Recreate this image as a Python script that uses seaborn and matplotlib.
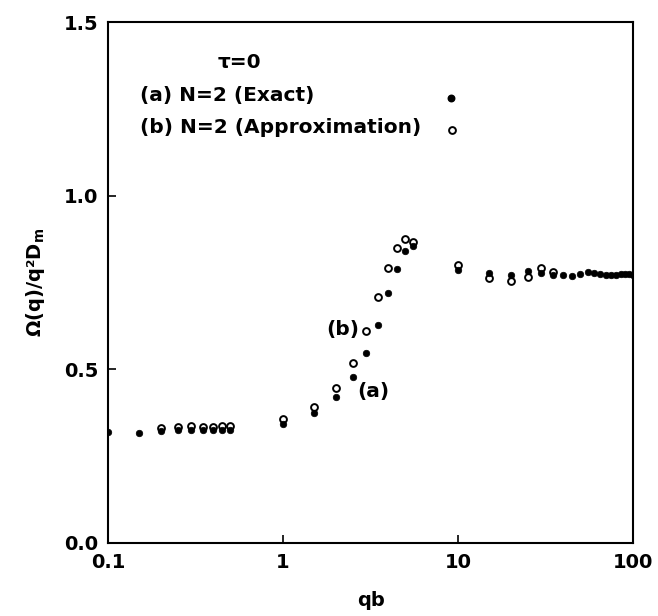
import numpy as np
import pandas as pd
import matplotlib
matplotlib.use("Agg")
import matplotlib.pyplot as plt
import seaborn as sns

# ---- data ----
x_exact = [0.1, 0.15, 0.2, 0.25, 0.3, 0.35, 0.4, 0.45, 0.5, 1.0, 1.5, 2.0, 2.5,
           3.0, 3.5, 4.0, 4.5, 5.0, 5.5, 10, 15, 20, 25, 30, 35, 40, 45, 50,
           55, 60, 65, 70, 75, 80, 85, 90, 95, 100]
y_exact = [0.320, 0.318, 0.322, 0.325, 0.325, 0.324, 0.324, 0.325, 0.326, 0.343,
           0.375, 0.420, 0.477, 0.548, 0.628, 0.720, 0.790, 0.840, 0.855, 0.786,
           0.776, 0.772, 0.783, 0.776, 0.772, 0.772, 0.770, 0.775, 0.779, 0.776,
           0.774, 0.773, 0.773, 0.773, 0.774, 0.774, 0.774, 0.773]

x_approx = [0.2, 0.25, 0.3, 0.35, 0.4, 0.45, 0.5, 1.0, 1.5, 2.0, 2.5, 3.0, 3.5,
            4.0, 4.5, 5.0, 5.5, 10, 15, 20, 25, 30, 35]
y_approx = [0.330, 0.333, 0.337, 0.335, 0.335, 0.337, 0.338, 0.357, 0.392, 0.447,
            0.519, 0.610, 0.707, 0.791, 0.850, 0.875, 0.868, 0.800, 0.762, 0.755,
            0.767, 0.791, 0.781]

x_ticks = [0.1, 1, 10, 100]
x_tick_labels = ["0.1", "1", "10", "100"]
y_ticks = [0.0, 0.5, 1.0, 1.5]
y_tick_labels = ["0.0", "0.5", "1.0", "1.5"]

df_exact = pd.DataFrame({"qb": x_exact, "omega": y_exact})
df_approx = pd.DataFrame({"qb": x_approx, "omega": y_approx})

sns.set_style("ticks")
plt.rcParams["font.family"] = ["DejaVu Sans"]
plt.rcParams["font.weight"] = "bold"
plt.rcParams["mathtext.fontset"] = "custom"
plt.rcParams["mathtext.rm"] = "DejaVu Sans:bold"
plt.rcParams["mathtext.it"] = "DejaVu Sans:bold"
plt.rcParams["mathtext.default"] = "rm"
for key in ["text.color", "axes.labelcolor", "xtick.color", "ytick.color",
            "axes.edgecolor"]:
    plt.rcParams[key] = "black"

fig = plt.figure(figsize=(6.58, 6.16), dpi=100)
ax = fig.add_axes([108 / 658, 1 - 543 / 616, 525 / 658, 521 / 616])

sns.scatterplot(data=df_approx, x="qb", y="omega", ax=ax, marker="o",
                facecolor="white", edgecolor="black", linewidth=1.4, s=24,
                zorder=3)
sns.scatterplot(data=df_exact, x="qb", y="omega", ax=ax, marker="o",
                color="black", edgecolor="black", linewidth=0.5, s=22,
                zorder=4)

ax.set_xscale("log")
ax.set_xlim(0.1, 100)
ax.set_ylim(0.0, 1.5)
ax.set_xticks(x_ticks)
ax.set_xticklabels(x_tick_labels)
ax.set_yticks(y_ticks)
ax.set_yticklabels(y_tick_labels)
ax.minorticks_off()
ax.tick_params(axis="both", direction="in", length=6, width=1.2,
               labelsize=14, pad=7, colors="black")
for lab in ax.get_xticklabels() + ax.get_yticklabels():
    lab.set_fontweight("bold")
for sp in ax.spines.values():
    sp.set_visible(True)
    sp.set_linewidth(1.5)
    sp.set_color("black")

ax.set_xlabel("qb", fontsize=14, fontweight="bold", labelpad=14)
ax.set_ylabel("Ω(q)/q²D$_{m}$", fontsize=14, fontweight="bold", labelpad=12)

# legend-like annotations
ax.text(0.25, 0.923, "τ=0", transform=ax.transAxes, ha="center", va="center",
        fontsize=14.5, fontweight="bold")
ax.text(0.061, 0.858, "(a) N=2 (Exact)", transform=ax.transAxes, ha="left",
        va="center", fontsize=14.5, fontweight="bold")
ax.text(0.061, 0.797, "(b) N=2 (Approximation)", transform=ax.transAxes,
        ha="left", va="center", fontsize=14.5, fontweight="bold")
ax.scatter([0.653], [0.855], transform=ax.transAxes, s=22, color="black",
           zorder=5)
ax.scatter([0.656], [0.793], transform=ax.transAxes, s=24, facecolor="white",
           edgecolor="black", linewidth=1.4, zorder=5)

ax.text(2.2, 0.616, "(b)", ha="center", va="center", fontsize=14.5,
        fontweight="bold")
ax.text(3.3, 0.435, "(a)", ha="center", va="center", fontsize=14.5,
        fontweight="bold")

fig.savefig("out.png", dpi=100)
